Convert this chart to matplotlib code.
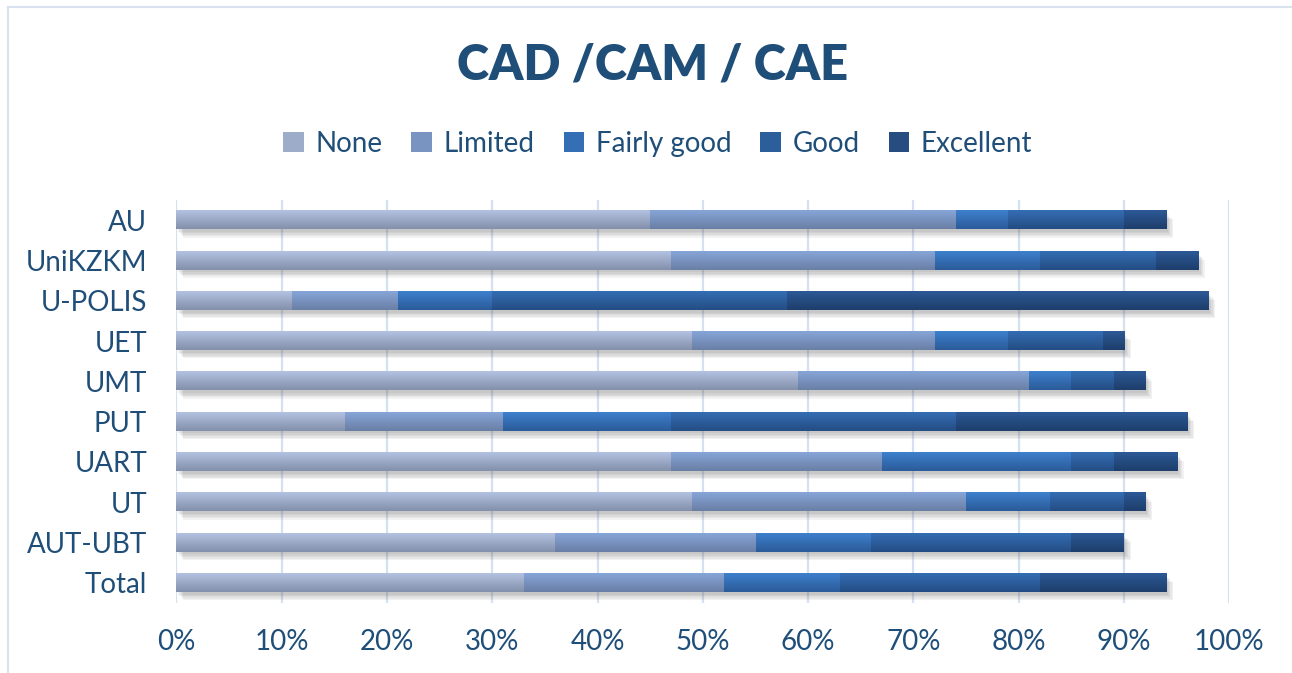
import numpy as np
import matplotlib
matplotlib.use("Agg")
import matplotlib.pyplot as plt
from matplotlib.colors import LinearSegmentedColormap
from matplotlib.patches import Patch
from matplotlib.lines import Line2D
import matplotlib.patheffects as pe

categories = ["AU", "UniKZKM", "U-POLIS", "UET", "UMT", "PUT", "UART", "UT", "AUT-UBT", "Total"]
series_names = ["None", "Limited", "Fairly good", "Good", "Excellent"]
none_vals      = [45, 47, 11, 49, 59, 16, 47, 49, 36, 33]
limited_vals   = [29, 25, 10, 23, 22, 15, 20, 26, 19, 19]
fairly_vals    = [5, 10, 9, 7, 4, 16, 18, 8, 11, 11]
good_vals      = [11, 11, 28, 9, 4, 27, 4, 7, 19, 19]
excellent_vals = [4, 4, 40, 2, 3, 22, 6, 2, 5, 12]
xtick_vals = [0, 10, 20, 30, 40, 50, 60, 70, 80, 90, 100]
xtick_labels = [f"{v}%" for v in xtick_vals]

series = [none_vals, limited_vals, fairly_vals, good_vals, excellent_vals]
grad_colors = [("#b3c2e1", "#8390ab"),
               ("#86a5d8", "#6a7fa5"),
               ("#3e80cd", "#2b5b99"),
               ("#346db4", "#244d83"),
               ("#2c5996", "#1e3e6b")]
mid_colors = ["#9dacc9", "#7a94c2", "#346eb5", "#2d5e9c", "#264c80"]
text_color = "#1F4E79"
font = ["Lato", "DejaVu Sans"]

fig = plt.figure(figsize=(12.92, 6.73), dpi=100)
ax = fig.add_axes([176.4 / 1292, (673 - 603) / 673, (1229.4 - 176.4) / 1292, 403 / 673])

ypos = np.arange(len(categories))[::-1]
bar_h = 0.45
left = np.zeros(len(categories))
grad = np.linspace(0, 1, 64).reshape(-1, 1)
shadow_fx = [pe.SimplePatchShadow(offset=(o, -o - 1), shadow_rgbFace="#505050", alpha=0.07)
             for o in (1, 2, 3, 4, 5)] + [pe.Normal()]
for k, vals in enumerate(series):
    vals = np.array(vals, dtype=float)
    bars = ax.barh(ypos, vals, left=left, height=bar_h, color=mid_colors[k],
                   edgecolor="none", zorder=2)
    cmap = LinearSegmentedColormap.from_list(f"g{k}", [grad_colors[k][0], grad_colors[k][1]])
    for b in bars:
        b.set_path_effects(shadow_fx)
        x0, y0 = b.get_x(), b.get_y()
        w, h = b.get_width(), b.get_height()
        ax.imshow(grad, extent=[x0, x0 + w, y0, y0 + h], origin="upper", cmap=cmap,
                  aspect="auto", zorder=3, interpolation="bilinear")
    left += vals

ax.set_xlim(0, 100)
ax.set_ylim(-0.5, len(categories) - 0.5)
ax.set_xticks(xtick_vals)
ax.set_xticklabels(xtick_labels)
ax.set_yticks(ypos)
ax.set_yticklabels(categories)
ax.grid(axis="x", color="#d5e1f0", linewidth=1.6, zorder=0)
ax.set_axisbelow(True)
for s in ax.spines.values():
    s.set_visible(False)
ax.tick_params(axis="both", length=0, labelcolor=text_color, labelsize=20)
ax.tick_params(axis="y", pad=21)
ax.tick_params(axis="x", pad=19)
for lab in ax.get_xticklabels() + ax.get_yticklabels():
    lab.set_family(font)

fig.text(0.505, 1 - 65 / 673, "CAD /CAM / CAE", ha="center", va="center",
         fontsize=35, fontweight="heavy", color=text_color, family=font)

handles = [Patch(facecolor=mid_colors[k], edgecolor="none") for k in range(5)]
leg = fig.legend(handles, series_names, loc="center", bbox_to_anchor=(0.509, 1 - 144 / 673),
                 ncol=5, frameon=False, handlelength=0.75, handleheight=0.75,
                 handletextpad=0.4, columnspacing=1.05,
                 prop={"family": font, "size": 20})
for t in leg.get_texts():
    t.set_color(text_color)

fig.add_artist(Line2D([8 / 1292, 8 / 1292], [0, 1 - 7 / 673], transform=fig.transFigure,
                      color="#d9e2ef", linewidth=1.5))
fig.add_artist(Line2D([8 / 1292, 1], [1 - 7 / 673, 1 - 7 / 673], transform=fig.transFigure,
                      color="#d9e2ef", linewidth=1.5))

fig.savefig("out.png", dpi=100, facecolor="white")
